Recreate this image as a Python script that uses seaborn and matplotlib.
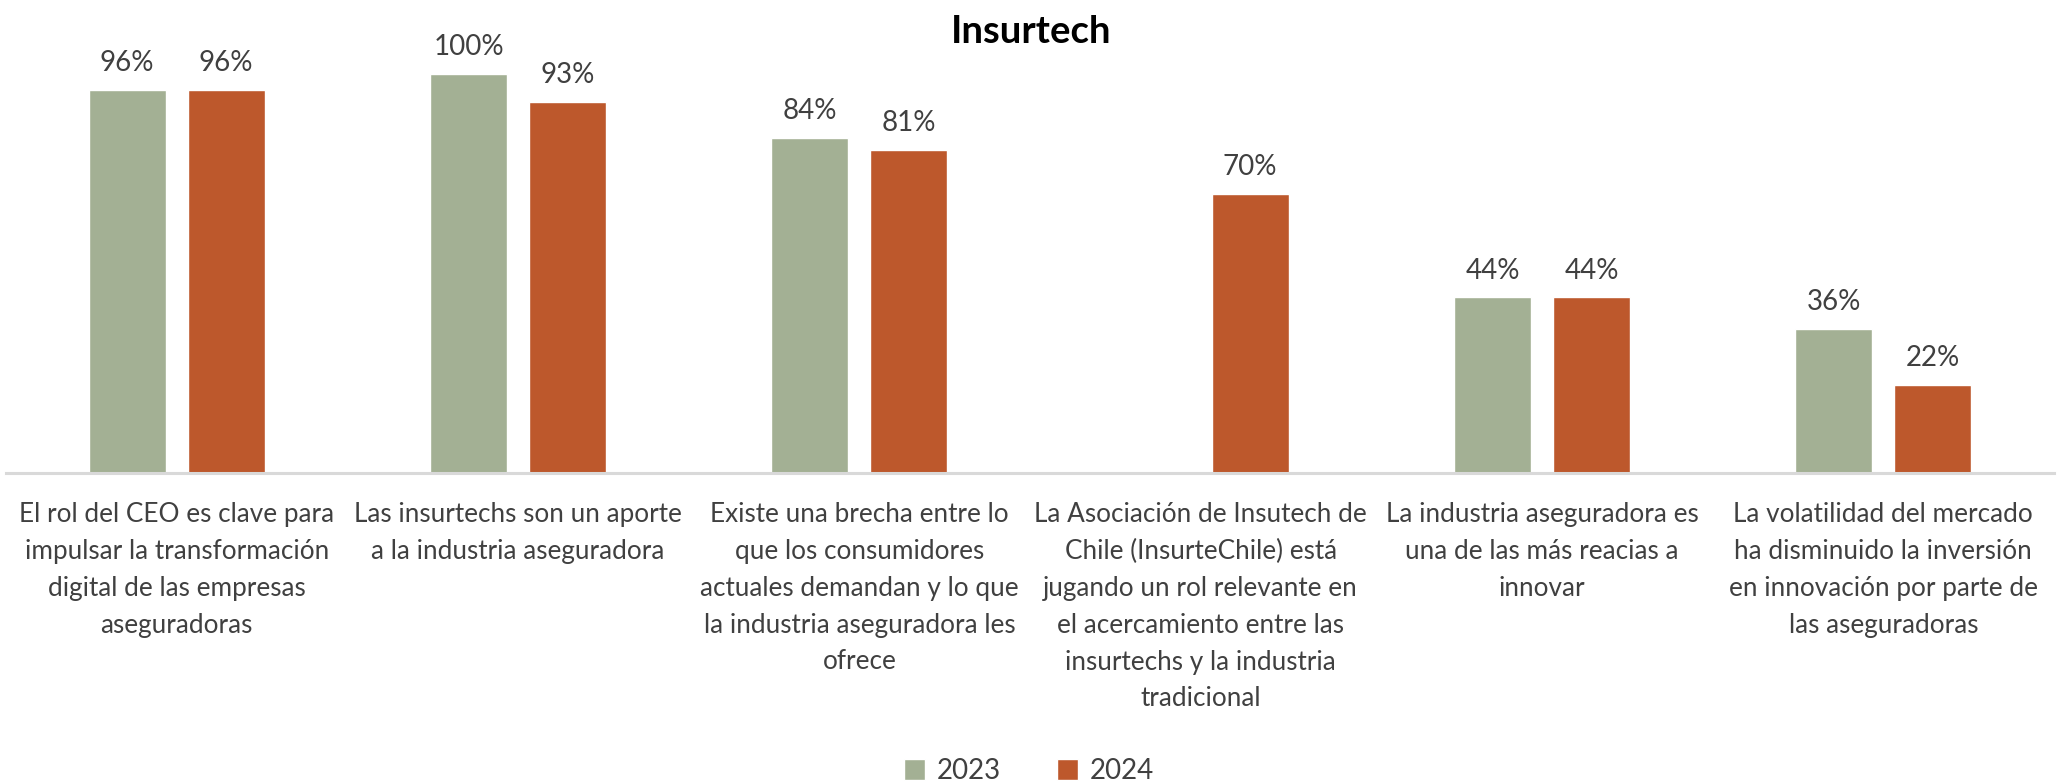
import numpy as np
import pandas as pd
import matplotlib
matplotlib.use("Agg")
import matplotlib.pyplot as plt
import seaborn as sns

# Survey statements (x categories) and share of agreement per year (%)
categories = [
    "El rol del CEO es clave para\nimpulsar la transformación\ndigital de las empresas\naseguradoras",
    "Las insurtechs son un aporte\na la industria aseguradora",
    "Existe una brecha entre lo\nque los consumidores\nactuales demandan y lo que\nla industria aseguradora les\nofrece",
    "La Asociación de Insutech de\nChile (InsurteChile) está\njugando un rol relevante en\nel acercamiento entre las\ninsurtechs y la industria\ntradicional",
    "La industria aseguradora es\nuna de las más reacias a\ninnovar",
    "La volatilidad del mercado\nha disminuido la inversión\nen innovación por parte de\nlas aseguradoras",
]
years = ["2023", "2024"]
values_2023 = [96, 100, 84, np.nan, 44, 36]
values_2024 = [96, 93, 81, 70, 44, 22]
title = "Insurtech"

colors = {"2023": "#A3B094", "2024": "#BD582C"}
text_color = "#404040"

df = pd.DataFrame({
    "categoria": categories * 2,
    "anio": [years[0]] * len(categories) + [years[1]] * len(categories),
    "valor": values_2023 + values_2024,
})

sns.set_theme(style="white")
plt.rcParams["font.family"] = ["Lato", "DejaVu Sans"]

W, H, DPI = 2058, 781, 100
fig = plt.figure(figsize=(W / DPI, H / DPI), dpi=DPI)

# plot area: baseline at 473 px from top, 110 units tall
base_px = 473
unit_px = 3.99
ymax = 110
left_px, right_px = 6, 2054
ax = fig.add_axes([
    left_px / W,
    (H - base_px) / H,
    (right_px - left_px) / W,
    ymax * unit_px / H,
])

sns.barplot(
    data=df, x="categoria", y="valor", hue="anio", hue_order=years,
    order=categories, palette=colors, width=0.58, gap=0.222,
    errorbar=None, saturation=1, ax=ax,
)

ax.set_ylim(0, ymax)
ax.set_xlim(-0.5, len(categories) - 0.5)
ax.set_xlabel("")
ax.set_ylabel("")
ax.set_yticks([])
for side in ["top", "left", "right"]:
    ax.spines[side].set_visible(False)
ax.spines["bottom"].set_color("#D9D9D9")
ax.spines["bottom"].set_linewidth(2.2)

ax.tick_params(axis="x", length=0, pad=21, labelsize=18.8, labelcolor=text_color)
for lbl in ax.get_xticklabels():
    lbl.set_linespacing(1.59)

for cont in ax.containers:
    ax.bar_label(cont, fmt=lambda v: "" if np.isnan(v) else f"{v:.0f}%",
                 padding=10, fontsize=20, color=text_color)

handles, labels = ax.get_legend_handles_labels()
if ax.get_legend() is not None:
    ax.get_legend().remove()
fig.legend(handles, labels, loc="lower center", bbox_to_anchor=(0.5, -0.036),
           ncol=2, frameon=False, fontsize=20, labelcolor=text_color,
           handlelength=0.75, handleheight=0.75, handletextpad=0.45,
           columnspacing=2.0)

fig.text(0.501, 1 - 32 / H, title, ha="center", va="center",
         fontsize=27.5, fontweight="bold", color="black")

fig.savefig("out.png", dpi=DPI)
